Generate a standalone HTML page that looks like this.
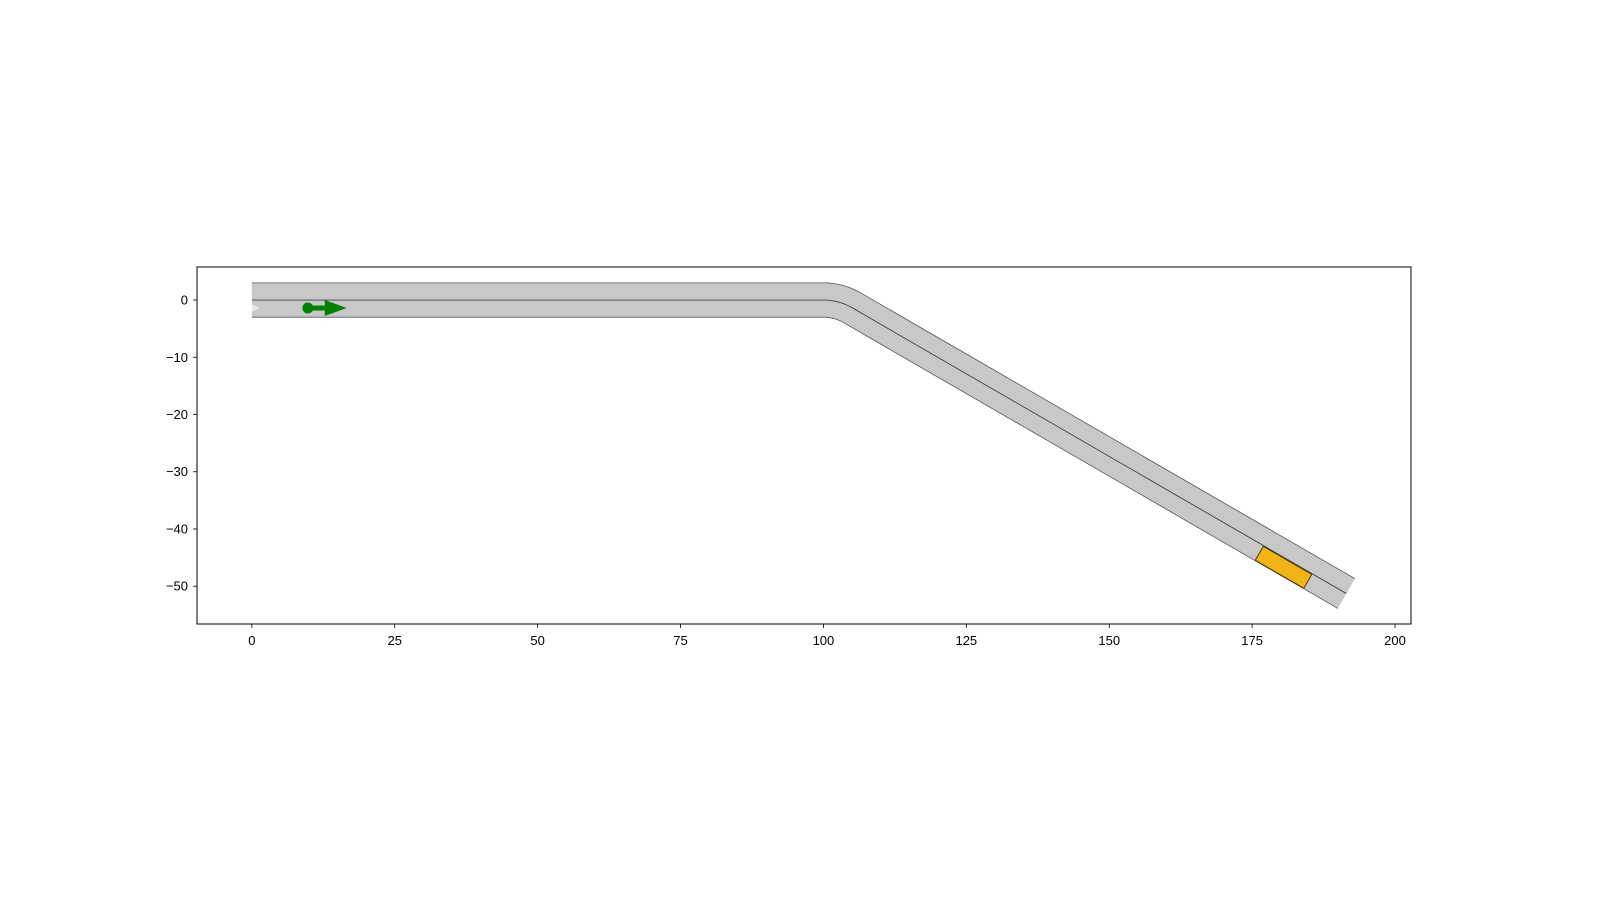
<!DOCTYPE html>
<html><head><meta charset="utf-8"><style>
html,body{margin:0;padding:0;background:#fff;}
svg{display:block;font-family:"Liberation Sans","DejaVu Sans",sans-serif;}
</style></head><body>
<svg id="chart" width="1600" height="900" viewBox="0 0 1600 900">
<rect width="1600" height="900" fill="#fff"/>
<g id="plot"></g>
<rect x="197" y="267" width="1214" height="357" fill="none" stroke="#000" stroke-width="1"/>
<g id="ticks"></g>
</svg>
<script>
// data
const xTicks = [0, 25, 50, 75, 100, 125, 150, 175, 200];
const yTicks = [0, -10, -20, -30, -40, -50];
const roadStraight1 = 100;   // length of first straight
const turnRadius = 10;
const turnAngleDeg = -30;
const roadTotalX = 191.5;    // x of road end
const laneHalfWidth = 3;
const egoPos = [9.8, -1.4];
const egoArrowEnd = [16.6, -1.4];
const carCenter = [180.5, -46.7];
const carHeadingDeg = -30;
const carSize = [9.8, 2.8];

const xmin = -9.6, xmax = 202.8, ymin = -56.6, ymax = 5.77;
const L = 197, R = 1411, T = 267, B = 624;
const sx = v => L + (v - xmin) / (xmax - xmin) * (R - L);
const sy = v => B - (v - ymin) / (ymax - ymin) * (B - T);
const NS = "http://www.w3.org/2000/svg";
function mk(tag, attrs, parent) {
  const e = document.createElementNS(NS, tag);
  for (const k in attrs) e.setAttribute(k, attrs[k]);
  parent.appendChild(e);
  return e;
}
const plot = document.getElementById('plot');
const ticks = document.getElementById('ticks');

// centerline points with headings
const pts = [];
pts.push([0, 0, 0]);
pts.push([roadStraight1, 0, 0]);
const ta = turnAngleDeg * Math.PI / 180;
const n = 20;
for (let i = 1; i <= n; i++) {
  const a = ta * i / n;
  pts.push([roadStraight1 + turnRadius * Math.sin(Math.abs(a)), -turnRadius * (1 - Math.cos(a)), a]);
}
const last = pts[pts.length - 1];
const dx = roadTotalX - last[0];
pts.push([roadTotalX, last[1] + dx * Math.tan(ta), ta]);

const off = d => pts.map(p => [p[0] - d * Math.sin(p[2]), p[1] + d * Math.cos(p[2])]);
const left = off(laneHalfWidth), right = off(-laneHalfWidth);
const toStr = arr => arr.map(p => sx(p[0]).toFixed(2) + ',' + sy(p[1]).toFixed(2)).join(' ');

const road = mk('polygon', {points: toStr(left.concat(right.slice().reverse())), fill: '#c8c8c8', stroke: 'none'}, plot);


const le = mk('polyline', {points: toStr(left), fill: 'none', stroke: '#555', 'stroke-width': 0.8}, plot);


const re = mk('polyline', {points: toStr(right), fill: 'none', stroke: '#555', 'stroke-width': 0.8}, plot);


const cl = mk('polyline', {points: toStr(pts), fill: 'none', stroke: '#444', 'stroke-width': 0.9}, plot);



// faint start/end markers
const sm = mk('polygon', {points: `${sx(0)},${sy(-0.7)} ${sx(1.4)},${sy(-1.4)} ${sx(0)},${sy(-2.1)}`, fill: '#e6e6e6'}, plot);



// car
const ch = carHeadingDeg * Math.PI / 180;
const c = Math.cos(ch), s = Math.sin(ch);
const hl = carSize[0] / 2, hw = carSize[1] / 2;
const corners = [[hl, hw], [hl, -hw], [-hl, -hw], [-hl, hw]].map(([a, b]) => [carCenter[0] + a * c - b * s, carCenter[1] + a * s + b * c]);
const car = mk('polygon', {points: toStr(corners), fill: '#f0b416', stroke: '#3a3000', 'stroke-width': 0.9}, plot);



// ego marker
const ex = sx(egoPos[0]), ey = sy(egoPos[1]), ax = sx(egoArrowEnd[0]);
const shaft = mk('rect', {x: ex, y: ey - 2.5, width: ax - 22 - ex, height: 5, fill: 'green'}, plot);


const head = mk('polygon', {points: `${ax - 22},${ey - 8} ${ax},${ey} ${ax - 22},${ey + 8}`, fill: 'green'}, plot);


const dot = mk('circle', {cx: ex, cy: ey, r: 5.5, fill: 'green'}, plot);



// ticks
xTicks.forEach(v => {
  const x = sx(v);
  const t = mk('line', {x1: x, x2: x, y1: B, y2: B + 4, stroke: '#000', 'stroke-width': 0.8}, ticks);
  
  
  const lb = mk('text', {x: x, y: B + 21, 'text-anchor': 'middle', 'font-size': 13, fill: '#000'}, ticks);
  lb.textContent = String(v);
  
  
});
yTicks.forEach(v => {
  const y = sy(v);
  const t = mk('line', {x1: L - 4, x2: L, y1: y, y2: y, stroke: '#000', 'stroke-width': 0.8}, ticks);
  
  
  const lb = mk('text', {x: L - 9, y: y + 4.5, 'text-anchor': 'end', 'font-size': 13, fill: '#000'}, ticks);
  lb.textContent = v < 0 ? '\u2212' + Math.abs(v) : String(v);
  
  
});
</script>
</body></html>
